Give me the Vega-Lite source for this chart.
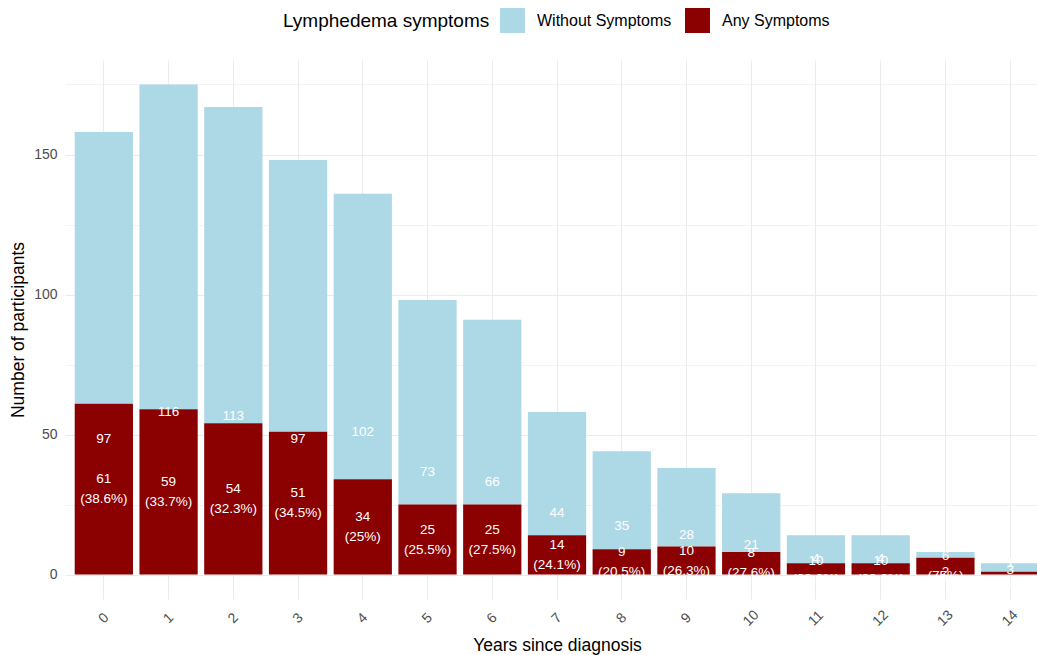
{
  "$schema": "https://vega.github.io/schema/vega-lite/v6.json",
  "width": 972,
  "height": 539,
  "autosize": {"type": "none"},
  "padding": {"left": 65, "top": 60, "right": 0, "bottom": 56},
  "background": "white",
  "config": {
    "font": "Liberation Sans",
    "view": {"stroke": null},
    "legend": {"symbolStrokeWidth": 0}
  },
  "data": {
    "values": [
      {"year": 0, "status": "Without Symptoms", "n": 97, "label": "97"},
      {"year": 0, "status": "Any Symptoms", "n": 61, "label": "61\n(38.6%)"},
      {"year": 1, "status": "Without Symptoms", "n": 116, "label": "116"},
      {"year": 1, "status": "Any Symptoms", "n": 59, "label": "59\n(33.7%)"},
      {"year": 2, "status": "Without Symptoms", "n": 113, "label": "113"},
      {"year": 2, "status": "Any Symptoms", "n": 54, "label": "54\n(32.3%)"},
      {"year": 3, "status": "Without Symptoms", "n": 97, "label": "97"},
      {"year": 3, "status": "Any Symptoms", "n": 51, "label": "51\n(34.5%)"},
      {"year": 4, "status": "Without Symptoms", "n": 102, "label": "102"},
      {"year": 4, "status": "Any Symptoms", "n": 34, "label": "34\n(25%)"},
      {"year": 5, "status": "Without Symptoms", "n": 73, "label": "73"},
      {"year": 5, "status": "Any Symptoms", "n": 25, "label": "25\n(25.5%)"},
      {"year": 6, "status": "Without Symptoms", "n": 66, "label": "66"},
      {"year": 6, "status": "Any Symptoms", "n": 25, "label": "25\n(27.5%)"},
      {"year": 7, "status": "Without Symptoms", "n": 44, "label": "44"},
      {"year": 7, "status": "Any Symptoms", "n": 14, "label": "14\n(24.1%)"},
      {"year": 8, "status": "Without Symptoms", "n": 35, "label": "35"},
      {"year": 8, "status": "Any Symptoms", "n": 9, "label": "9\n(20.5%)"},
      {"year": 9, "status": "Without Symptoms", "n": 28, "label": "28"},
      {"year": 9, "status": "Any Symptoms", "n": 10, "label": "10\n(26.3%)"},
      {"year": 10, "status": "Without Symptoms", "n": 21, "label": "21"},
      {"year": 10, "status": "Any Symptoms", "n": 8, "label": "8\n(27.6%)"},
      {"year": 11, "status": "Without Symptoms", "n": 10, "label": "10"},
      {"year": 11, "status": "Any Symptoms", "n": 4, "label": "4\n(28.6%)"},
      {"year": 12, "status": "Without Symptoms", "n": 10, "label": "10"},
      {"year": 12, "status": "Any Symptoms", "n": 4, "label": "4\n(28.6%)"},
      {"year": 13, "status": "Without Symptoms", "n": 2, "label": "2"},
      {"year": 13, "status": "Any Symptoms", "n": 6, "label": "6\n(75%)"},
      {"year": 14, "status": "Without Symptoms", "n": 3, "label": "3"},
      {"year": 14, "status": "Any Symptoms", "n": 1, "label": "1\n(25%)"}
    ]
  },
  "encoding": {
    "x": {
      "field": "year",
      "type": "ordinal",
      "scale": {"paddingInner": 0.1, "paddingOuter": 0.15, "range": [0, 984]},
      "axis": {
        "title": "Years since diagnosis",
        "titleFontSize": 17.5,
        "titleFontWeight": "normal",
        "titleColor": "#000000",
        "titleX": 492,
        "titlePadding": 8,
        "labelAngle": -45,
        "labelAlign": "center",
        "labelBaseline": "middle",
        "labelFontSize": 14,
        "labelColor": "#4d4d4d",
        "labelPadding": 19,
        "ticks": false,
        "domain": false,
        "grid": true,
        "gridColor": "#ebebeb",
        "gridWidth": 1
      }
    }
  },
  "layer": [
    {
      "mark": {"type": "bar"},
      "encoding": {
        "y": {
          "field": "n",
          "type": "quantitative",
          "stack": "zero",
          "scale": {"domain": [-8.75, 183.75], "nice": false, "zero": false},
          "axis": {
            "title": "Number of participants",
            "titleFontSize": 17.5,
            "titleFontWeight": "normal",
            "titleColor": "#000000",
            "titlePadding": 6,
            "values": [0, 25, 50, 75, 100, 125, 150, 175],
            "labelExpr": "datum.value % 50 === 0 ? datum.label : ''",
            "labelFontSize": 14,
            "labelColor": "#4d4d4d",
            "labelPadding": 8,
            "ticks": false,
            "domain": false,
            "grid": true,
            "gridColor": "#ebebeb",
            "gridWidth": {"condition": {"test": "datum.value % 50 === 0", "value": 1}, "value": 0.6}
          }
        },
        "color": {
          "field": "status",
          "type": "nominal",
          "scale": {"domain": ["Without Symptoms", "Any Symptoms"], "range": ["#ADD8E6", "#8B0000"]},
          "legend": {
            "title": "Lymphedema symptoms",
            "orient": "none",
            "direction": "horizontal",
            "legendX": 218,
            "legendY": -52,
            "titleOrient": "left",
            "titleFontSize": 19,
            "titleFontWeight": "normal",
            "titleColor": "#000000",
            "titlePadding": 10,
            "titleBaseline": "middle",
            "titleLimit": 400,
            "labelFontSize": 16,
            "labelColor": "#000000",
            "labelOffset": 12,
            "labelLimit": 300,
            "columnPadding": 13,
            "symbolType": "square",
            "symbolSize": 625,
            "symbolOpacity": 1
          }
        },
        "order": {"field": "status", "sort": "ascending"}
      }
    },
    {
      "transform": [{"filter": "datum.status === 'Without Symptoms'"}],
      "mark": {"type": "text", "color": "white", "fontSize": 13.5, "baseline": "middle", "align": "center"},
      "encoding": {
        "y": {
          "field": "n",
          "type": "quantitative",
          "stack": null,
          "scale": {"domain": [-17.5, 367.5], "nice": false, "zero": false},
          "axis": null
        },
        "text": {"field": "label"}
      }
    },
    {
      "transform": [{"filter": "datum.status === 'Any Symptoms'"}],
      "mark": {"type": "text", "color": "white", "fontSize": 13.5, "lineBreak": "\n", "lineHeight": 20, "baseline": "middle", "align": "center", "dy": -10},
      "encoding": {
        "y": {
          "field": "n",
          "type": "quantitative",
          "stack": null,
          "scale": {"domain": [-17.5, 367.5], "nice": false, "zero": false},
          "axis": null
        },
        "text": {"field": "label"}
      }
    }
  ],
  "resolve": {"scale": {"y": "independent"}}
}
